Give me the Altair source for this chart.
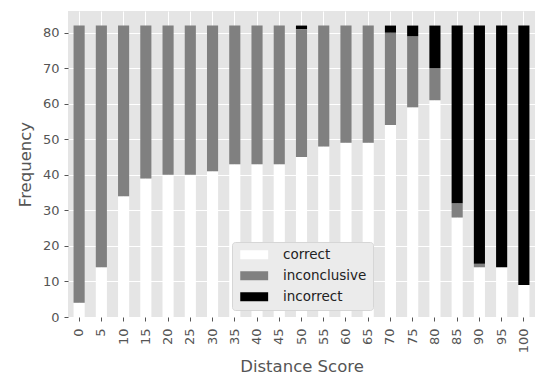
import altair as alt
import pandas as pd

scores = ["0", "5", "10", "15", "20", "25", "30", "35", "40", "45", "50",
          "55", "60", "65", "70", "75", "80", "85", "90", "95", "100"]
outcomes = ["correct", "inconclusive", "incorrect"]
correct = [4, 14, 34, 39, 40, 40, 41, 43, 43, 43, 45, 48, 49, 49, 54, 59, 61, 28, 14, 14, 9]
inconclusive = [78, 68, 48, 43, 42, 42, 41, 39, 39, 39, 36, 34, 33, 33, 26, 20, 9, 4, 1, 0, 0]
incorrect = [0, 0, 0, 0, 0, 0, 0, 0, 0, 0, 1, 0, 0, 0, 2, 3, 12, 50, 67, 68, 73]
y_ticks = [0, 10, 20, 30, 40, 50, 60, 70, 80]

rows = []
for i, s in enumerate(scores):
    for k, (name, vals) in enumerate(zip(outcomes, [correct, inconclusive, incorrect])):
        rows.append({"score": s, "outcome": name, "count": vals[i], "order": k})
df = pd.DataFrame(rows)

chart = alt.Chart(df).mark_bar().encode(
    x=alt.X("score:N", sort=scores,
            scale=alt.Scale(paddingInner=0.5, paddingOuter=0.25),
            axis=alt.Axis(title="Distance Score", labelAngle=-90, bandPosition=0.5,
                          grid=True, labelPadding=7, titlePadding=6)),
    y=alt.Y("count:Q", stack="zero",
            scale=alt.Scale(domain=[0, 86.1], nice=False),
            axis=alt.Axis(title="Frequency", values=y_ticks, grid=True,
                          labelPadding=5, titlePadding=9)),
    color=alt.Color("outcome:N", sort=outcomes,
                    scale=alt.Scale(domain=outcomes, range=["#ffffff", "#808080", "#000000"]),
                    legend=alt.Legend(title=None, orient="none", legendX=164, legendY=231,
                                      fillColor="#EBEBEB", strokeColor="#D6D6D6",
                                      cornerRadius=3, padding=6,
                                      symbolType="M-1,-1H5.2V1H-1Z", symbolSize=81,
                                      symbolStrokeWidth=0, symbolOpacity=1,
                                      labelOffset=31.5,
                                      labelFontSize=13.5, labelColor="#222222",
                                      labelFont="DejaVu Sans", rowPadding=6)),
    order=alt.Order("order:Q"),
).properties(
    width=467, height=306,
    padding={"left": 68, "top": 11, "right": 4, "bottom": 59},
    autosize=alt.AutoSizeParams(type="none"),
).configure(
    font="DejaVu Sans",
).configure_view(
    fill="#E5E5E5", strokeWidth=0,
).configure_axis(
    domain=False, gridColor="#ffffff", gridWidth=1, tickColor="#555555", tickSize=4,
    labelColor="#555555", titleColor="#555555", labelFontSize=13, titleFontSize=16.5,
    titleFontWeight="normal", labelFont="DejaVu Sans", titleFont="DejaVu Sans",
)

chart.save("out.html", embed_options={"renderer": "svg", "actions": False})
